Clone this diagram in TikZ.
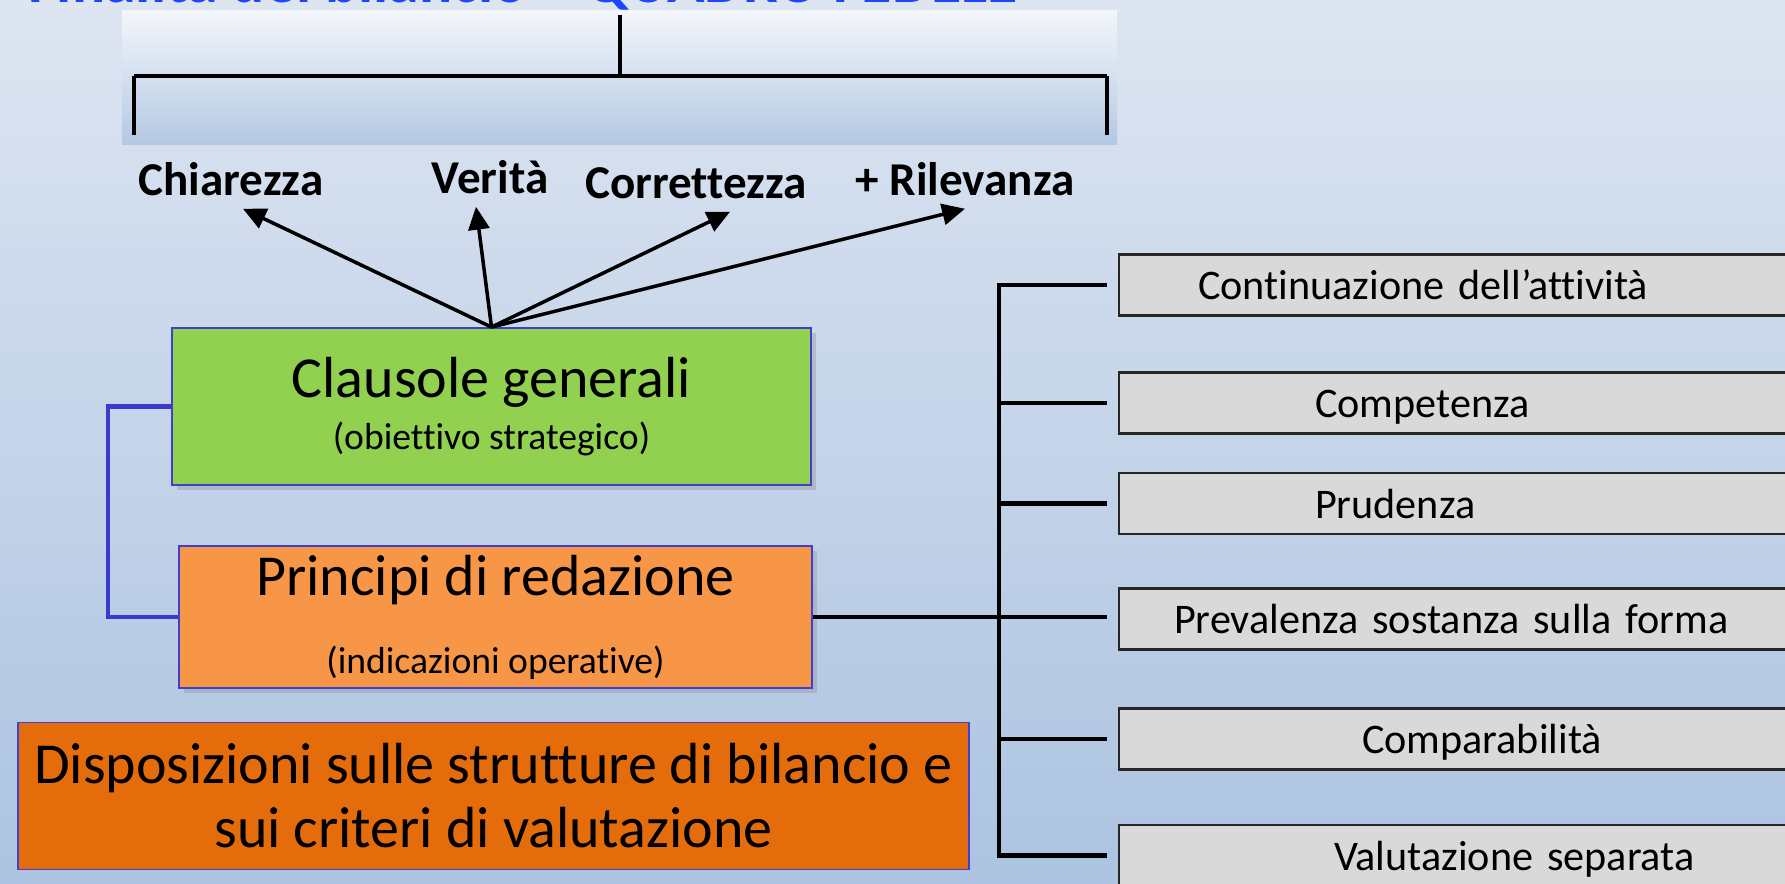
\documentclass[tikz,border=0pt]{standalone}
\usepackage{fontspec}
\setmainfont{Carlito}[Ligatures=NoCommon]
\usetikzlibrary{arrows.meta,positioning,shadows}
\definecolor{sfondosu}{HTML}{DDE5F1}
\definecolor{sfondogiu}{HTML}{ACC3E1}
\definecolor{pannellosu}{HTML}{F3F6FB}
\definecolor{pannellogiu}{HTML}{B4C8E3}
\definecolor{verde}{HTML}{92D050}
\definecolor{arancio}{HTML}{F79646}
\definecolor{aranciosc}{HTML}{E46C0A}
\definecolor{grigio}{HTML}{D9D9D9}
\definecolor{grigiobordo}{HTML}{262626}
\definecolor{bordoblu}{HTML}{3F3FD0}
\definecolor{lineablu}{HTML}{3A3ACC}
\definecolor{titoloblu}{HTML}{1F45FC}

\begin{document}
\begin{tikzpicture}[
  cornice/.style={rectangle,draw=bordoblu,line width=0.5pt,inner sep=0pt,
                  align=center},
  clausola/.style={cornice,fill=verde,minimum width=6.39cm,minimum height=1.57cm,
                   font=\fontsize{16.5}{14.8}\selectfont,
                   drop shadow={opacity=0.3,shadow xshift=0.5mm,shadow yshift=-0.5mm}},
  principio/.style={cornice,fill=arancio,minimum width=6.33cm,minimum height=1.42cm,
                    font=\fontsize{16.5}{14.8}\selectfont,
                    drop shadow={opacity=0.3,shadow xshift=0.5mm,shadow yshift=-0.5mm}},
  disposiz/.style={cornice,fill=aranciosc,minimum width=9.51cm,minimum height=1.47cm,
                   font=\fontsize{16.5}{18.2}\selectfont},
  voce/.style={rectangle,draw=grigiobordo,fill=grigio,line width=0.6pt,anchor=west,
               minimum height=0.61cm,text width=6.8cm,inner xsep=0pt,align=left,
               text height=9.5pt,text depth=1pt,font=\fontsize{12}{14}\selectfont},
  qualita/.style={anchor=base,font=\fontsize{13.4}{16}\selectfont\bfseries},
  titolo/.style={anchor=base east,inner sep=0pt,text=titoloblu,
                 font=\fontsize{17.6}{20}\selectfont\bfseries},
  arr/.style={-{Triangle[length=6.5pt,width=6pt]},line width=1pt},
  ramo/.style={line width=1.3pt},
  lega/.style={line width=1.2pt,draw=lineablu}
]
  \useasboundingbox (0,0) rectangle (17.85,8.83);
  \clip (0,0) rectangle (17.85,8.83);

  % ---- Background and top panel ------------------------------
  \shade[top color=sfondosu,bottom color=sfondogiu] (0,0) rectangle (17.85,8.83);
  \shade[top color=pannellosu,bottom color=pannellogiu] (1.22,7.38) rectangle (11.17,8.72);

  % ---- Title (cut by the top edge) ---------------------------
  \node[titolo] (titolo) at (10.18,8.805) {Finalità del bilancio – QUADRO FEDELE};

  % ---- Bracket under the title -------------------------------
  \coordinate (cima) at (6.20,8.68);
  \coordinate (attacco) at (6.20,8.07);
  \coordinate (gambaS) at (1.34,7.48);
  \coordinate (gambaD) at (11.07,7.48);
  \draw[line width=0.9pt] (cima) -- (attacco);
  \draw[line width=0.9pt] (gambaS) -- (gambaS |- attacco);
  \draw[line width=0.9pt] (gambaD) -- (gambaD |- attacco);
  \draw[line width=1.4pt] (gambaS |- attacco) -- (gambaD |- attacco);

  % ---- Qualities ---------------------------------------------
  \node[qualita] (chiar) at (2.31,6.87) {Chiarezza};
  \node[qualita] (verita) at (4.90,6.89) {Verità};
  \node[qualita] (corr) at (6.96,6.84) {Correttezza};
  \node[qualita] (ril) at (9.65,6.87) {+ Rilevanza};

  % ---- Left column of boxes ----------------------------------
  % Top: general clauses
  \node[clausola] (clausole) at (4.915,4.765)
    {Clausole generali\\
     {\fontsize{10.7}{12}\selectfont (obiettivo strategico)}};

  % Middle: drafting principles
  \node[principio] (principi) at (4.955,2.66)
    {Principi di redazione\\[7.4pt]
     {\fontsize{10.7}{12}\selectfont (indicazioni operative)}};

  % Bottom: structures and valuation criteria
  \node[disposiz] (disposizioni) at (4.935,0.87)
    {Disposizioni sulle strutture di bilancio e\\
     sui criteri di valutazione};

  % ---- Arrows to the qualities -------------------------------
  \draw[arr] (clausole.north) -- ([xshift=1.2mm]chiar.south);
  \draw[arr] (clausole.north) -- ([xshift=-1.4mm]verita.south);
  \draw[arr] (clausole.north) -- ([xshift=3.4mm]corr.south);
  \draw[arr] (clausole.north) -- ([xshift=0mm]ril.south);

  % ---- Blue link between clauses and principles --------------
  \draw[lega] (clausole.west) -- ++(-0.63,0) |- (principi.west);

  % ---- Right column: the principles --------------------------
  \node[voce] (cont) at (11.18,5.98) {\hspace*{0.79cm}Continuazione dell’attività};
  \node[voce] (comp) at (11.18,4.80) {\hspace*{1.96cm}Competenza};
  \node[voce] (prud) at (11.18,3.795) {\hspace*{1.96cm}Prudenza};
  \node[voce] (prev) at (11.18,2.64) {\hspace*{0.55cm}Prevalenza sostanza sulla forma};
  \node[voce] (compar) at (11.18,1.44) {\hspace*{2.43cm}Comparabilità};
  \node[voce] (valut) at (11.18,0.275) {\hspace*{2.15cm}Valutazione separata};

  % ---- Tree lines --------------------------------------------
  \coordinate (bus) at (9.99,0);
  \draw[ramo,shorten <=1.1mm,shorten >=1.1mm]
    (cont.west) -- (cont.west -| bus) -- (valut.west -| bus) -- (valut.west);
  \draw[ramo,shorten <=1.1mm] (comp.west) -- (comp.west -| bus);
  \draw[ramo,shorten <=1.1mm] (prud.west) -- (prud.west -| bus);
  \draw[ramo,shorten <=1.1mm] (compar.west) -- (compar.west -| bus);
  \draw[ramo,shorten >=1.1mm] (principi.east) -- (principi.east -| prev.west);

\end{tikzpicture}
\end{document}
